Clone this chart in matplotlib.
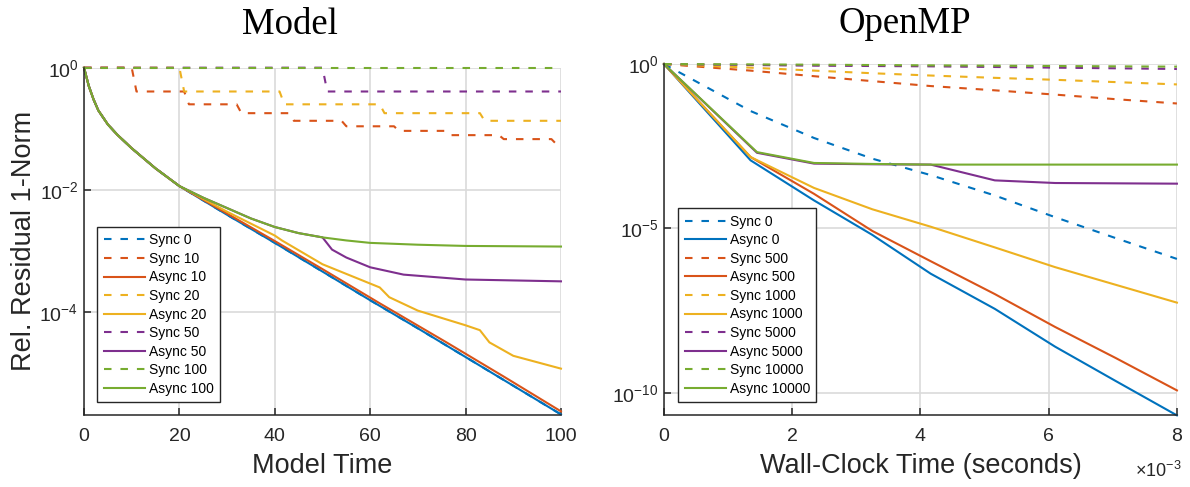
import numpy as np
import matplotlib
matplotlib.use("Agg")
import matplotlib.pyplot as plt
from matplotlib.ticker import FixedLocator, NullLocator, FuncFormatter

plt.rcParams["font.family"] = ["Liberation Sans", "DejaVu Sans"]
plt.rcParams["mathtext.fontset"] = "custom"
plt.rcParams["mathtext.rm"] = "Liberation Sans"
plt.rcParams["mathtext.default"] = "regular"
plt.rcParams["axes.unicode_minus"] = False

BLUE = "#0072BD"
ORANGE = "#D95319"
YELLOW = "#EDB120"
PURPLE = "#7E2F8E"
GREEN = "#77AC30"

# ---- Model panel, residuals given as log10 values ----
early_t = [0, 1, 2, 3, 5, 7, 10, 15, 20]
early_r = [0, -0.3, -0.52, -0.7, -0.93, -1.1, -1.32, -1.65, -1.94]

async0_t = [30, 40, 50, 60, 70, 80, 90, 100]
async0_r = [-2.41, -2.87, -3.34, -3.81, -4.27, -4.74, -5.21, -5.68]
async10_t = [30, 40, 50, 62, 76, 88, 100]
async10_r = [-2.39, -2.84, -3.3, -3.86, -4.5, -5.06, -5.63]
async20_t = [30, 40, 41.5, 50, 62, 64, 70, 80, 83, 85, 90, 100]
async20_r = [-2.36, -2.75, -2.83, -3.22, -3.6, -3.76, -3.98, -4.22, -4.3, -4.5, -4.72, -4.93]
async50_t = [25, 30, 35, 40, 45, 50, 52, 55, 60, 67, 80, 100]
async50_r = [-2.13, -2.3, -2.47, -2.61, -2.71, -2.78, -2.98, -3.11, -3.27, -3.39, -3.47, -3.5]
async100_t = [25, 30, 35, 40, 45, 50, 55, 60, 70, 80, 100]
async100_r = [-2.13, -2.3, -2.47, -2.61, -2.71, -2.78, -2.83, -2.87, -2.9, -2.92, -2.93]

# sync runs only update at the end of each delay window
sync_levels = [0, -0.39, -0.60, -0.745, -0.87, -0.96, -1.035, -1.105, -1.17, -1.25]
sync10_drops = [10, 21, 32, 43, 54, 65, 76, 87, 98]
sync20_drops = [20, 41, 62, 83]
sync50_drops = [50]
sync100_drops = []

# ---- OpenMP panel, time in ms, residuals as log10 values ----
omp_t = [0, 1.35, 2.34, 3.25, 4.16, 5.16, 6.1, 7.05, 8.0]
omp_t_late = [0, 1.45, 2.34, 3.25, 4.16, 5.16, 6.1, 7.05, 8.0]

sync0_omp = [0, -1.43, -2.25, -2.88, -3.38, -4.0, -4.66, -5.3, -5.93]
async0_omp = [0, -2.93, -4.15, -5.2, -6.38, -7.45, -8.6, -9.65, -10.69]
sync500_omp = [0, -0.2, -0.37, -0.52, -0.67, -0.8, -0.93, -1.07, -1.2]
async500_omp = [0, -2.83, -3.95, -5.08, -6.0, -7.0, -8.0, -8.95, -9.93]
sync1000_omp = [0, -0.11, -0.2, -0.28, -0.35, -0.42, -0.48, -0.55, -0.62]
async1000_omp = [0, -2.83, -3.77, -4.42, -4.95, -5.58, -6.18, -6.72, -7.26]
sync5000_omp = [0, -0.03, -0.05, -0.06, -0.07, -0.09, -0.11, -0.13, -0.15]
async5000_omp = [0, -2.7, -3.03, -3.05, -3.06, -3.54, -3.62, -3.63, -3.64]
sync10000_omp = [0, -0.01, -0.02, -0.03, -0.04, -0.05, -0.06, -0.07, -0.08]
async10000_omp = [0, -2.68, -3.01, -3.04, -3.06, -3.06, -3.06, -3.06, -3.06]


def staircase(drops, levels, t_end=100):
    t, r = [0], [levels[0]]
    for k, d in enumerate(drops):
        t += [d, d + 1]
        r += [levels[k], levels[k + 1]]
    t.append(t_end)
    r.append(r[-1])
    return t, r


def pw(r):
    return 10.0 ** np.array(r)


DASH = dict(linestyle=(0, (3.6, 4.3)))
LW = 1.5


def style_axes(ax):
    for s in ["top", "right"]:
        ax.spines[s].set_visible(False)
    for s in ["left", "bottom"]:
        ax.spines[s].set_color("#262626")
        ax.spines[s].set_linewidth(1.1)
    ax.grid(True, color="#dadada", linewidth=1.2, zorder=0)
    ax.set_axisbelow(True)
    ax.tick_params(direction="in", length=5, width=1.1, color="#262626",
                   labelsize=14, labelcolor="#262626")
    ax.tick_params(axis="x", pad=9)
    ax.tick_params(axis="y", pad=4)
    ax.yaxis.set_minor_locator(NullLocator())


fig = plt.figure(figsize=(11.9, 4.87), dpi=100)
ax1 = fig.add_axes([0.0706, 0.1478, 0.4008, 0.7132])
ax2 = fig.add_axes([0.558, 0.1478, 0.431, 0.7207])

# ---- Model ----
blue_t = early_t + async0_t
blue_r = early_r + async0_r
ax1.plot(blue_t, pw(blue_r), color=BLUE, lw=LW, label="Sync 0", clip_on=False, **DASH)
ax1.plot(blue_t, pw(blue_r), color=BLUE, lw=LW, label="_nolegend_", clip_on=False)

t, r = staircase(sync10_drops, sync_levels)
ax1.plot(t, pw(r), color=ORANGE, lw=LW, label="Sync 10", clip_on=False, **DASH)
ax1.plot(early_t + async10_t, pw(early_r + async10_r), color=ORANGE, lw=LW,
         label="Async 10", clip_on=False)

t, r = staircase(sync20_drops, sync_levels)
ax1.plot(t, pw(r), color=YELLOW, lw=LW, label="Sync 20", clip_on=False, **DASH)
ax1.plot(early_t + async20_t, pw(early_r + async20_r), color=YELLOW, lw=LW,
         label="Async 20", clip_on=False)

t, r = staircase(sync50_drops, sync_levels)
ax1.plot(t, pw(r), color=PURPLE, lw=LW, label="Sync 50", clip_on=False, **DASH)
ax1.plot(early_t + async50_t, pw(early_r + async50_r), color=PURPLE, lw=LW,
         label="Async 50", clip_on=False)

t, r = staircase(sync100_drops, sync_levels)
ax1.plot(t, pw(r), color=GREEN, lw=LW, label="Sync 100", clip_on=False, **DASH)
ax1.plot(early_t + async100_t, pw(early_r + async100_r), color=GREEN, lw=LW,
         label="Async 100", clip_on=False)

ax1.set_yscale("log")
ax1.set_xlim(0, 100)
ax1.set_ylim(10 ** -5.69, 1)
ax1.yaxis.set_major_locator(FixedLocator([1e-4, 1e-2, 1]))
ax1.set_xticks([0, 20, 40, 60, 80, 100])
style_axes(ax1)
ax1.set_title("Model", family="Liberation Serif", fontsize=26.5, pad=24, x=0.432)
ax1.set_xlabel("Model Time", fontsize=19.5, color="#262626", labelpad=6)
ax1.set_ylabel("Rel. Residual 1-Norm", fontsize=19.5, color="#262626", labelpad=2)

# ---- OpenMP ----
ms = 1e-3
series = [
    (omp_t, sync0_omp, BLUE, "Sync 0", True),
    (omp_t, async0_omp, BLUE, "Async 0", False),
    (omp_t, sync500_omp, ORANGE, "Sync 500", True),
    (omp_t, async500_omp, ORANGE, "Async 500", False),
    (omp_t, sync1000_omp, YELLOW, "Sync 1000", True),
    (omp_t, async1000_omp, YELLOW, "Async 1000", False),
    (omp_t, sync5000_omp, PURPLE, "Sync 5000", True),
    (omp_t_late, async5000_omp, PURPLE, "Async 5000", False),
    (omp_t, sync10000_omp, GREEN, "Sync 10000", True),
    (omp_t_late, async10000_omp, GREEN, "Async 10000", False),
]
for tt, rr, c, lab, dashed in series:
    kw = DASH if dashed else {}
    ax2.plot(np.array(tt) * ms, pw(rr), color=c, lw=LW, label=lab, clip_on=False, **kw)

ax2.set_yscale("log")
ax2.set_xlim(0, 8 * ms)
ax2.set_ylim(10 ** -10.68, 1)
ax2.yaxis.set_major_locator(FixedLocator([1e-10, 1e-5, 1]))
ax2.set_xticks(np.array([0, 2, 4, 6, 8]) * ms)
ax2.xaxis.set_major_formatter(FuncFormatter(lambda v, p: f"{v / ms:g}"))
style_axes(ax2)
ax2.set_title("OpenMP", family="Liberation Serif", fontsize=26.5, pad=22, x=0.47)
ax2.set_xlabel("Wall-Clock Time (seconds)", fontsize=19.5, color="#262626", labelpad=6)
ax2.text(1.01, -0.178, r"$\times10^{-3}$", transform=ax2.transAxes, ha="right",
         va="baseline", fontsize=13, color="#262626")

for ax in (ax1, ax2):
    leg = ax.legend(loc="lower left", bbox_to_anchor=(0.028, 0.037), borderaxespad=0,
                    fontsize=10, handlelength=3.0, handletextpad=0.25,
                    labelspacing=0.33, borderpad=0.45, fancybox=False, framealpha=1)
    leg.get_frame().set_edgecolor("#262626")
    leg.get_frame().set_linewidth(1.0)

fig.savefig("out.png", dpi=100)
